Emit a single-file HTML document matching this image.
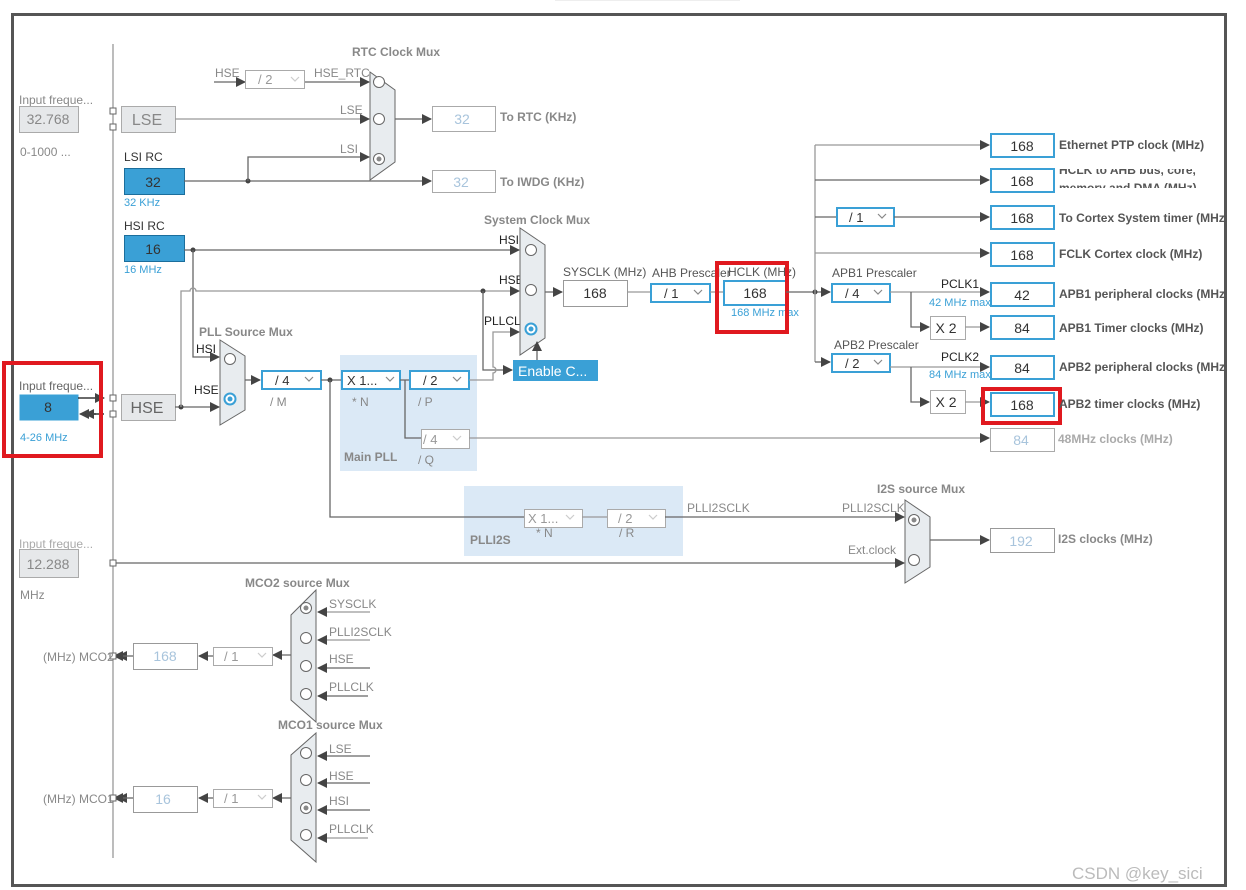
<!DOCTYPE html>
<html><head><meta charset="utf-8"><style>
html,body{margin:0;padding:0;background:#fff;width:1246px;height:890px;overflow:hidden}
svg{display:block;font-family:"Liberation Sans",sans-serif}
.l{stroke:#666;stroke-width:1.3;fill:none}
.lg{stroke:#999;stroke-width:1.3;fill:none}
.g{fill:#888;font-size:12px}
.b{fill:#888;font-size:12px;font-weight:bold}
.bd{fill:#555;font-size:12px;font-weight:bold}
.k{fill:#222;font-size:12px}
.bl{fill:#3aa0d6;font-size:11px}
.sel{stroke:#3aa0d6;stroke-width:2;fill:#fff}
.gb{stroke:#aaa;stroke-width:1;fill:#fff}
.mux{fill:#e8ecef;stroke:#666;stroke-width:1}
.c{fill:#fff;stroke:#666;stroke-width:1}
.v{font-size:14px;fill:#333;text-anchor:middle}
.vl{font-size:14px;fill:#a8c4dc;text-anchor:middle}
.ch{stroke:#888;stroke-width:1.2;fill:none}
.chl{stroke:#ccc;stroke-width:1.2;fill:none}
</style></head><body>
<svg width="1246" height="890" viewBox="0 0 1246 890">
<defs>
<marker id="a" markerWidth="10" markerHeight="10" refX="9" refY="5" orient="auto" markerUnits="userSpaceOnUse"><path d="M0,0 L10,5 L0,10 z" fill="#444"/></marker>
</defs>
<rect x="555" y="-1" width="185" height="2" fill="#eee"/>
<rect x="12.5" y="14.5" width="1213" height="871" fill="none" stroke="#555" stroke-width="3"/>
<line x1="113" y1="44" x2="113" y2="858" class="lg"/>

<!-- RTC -->
<text x="352" y="56" class="b">RTC Clock Mux</text>
<text x="215" y="77" class="g">HSE</text>
<path d="M214,82 H245" class="l" marker-end="url(#a)"/>
<rect x="245.5" y="70.5" width="59" height="18" class="gb"/><text x="258" y="84" style="font-size:13px;fill:#999">/ 2</text><polyline points="291,77 295,81 299,77" class="chl"/>
<path d="M305,82 H369" class="l" marker-end="url(#a)"/>
<text x="314" y="77" class="g">HSE_RTC</text>
<polygon points="370,72 395,90 395,162 370,180" class="mux"/>
<circle cx="379" cy="82" r="5.5" class="c"/><circle cx="379" cy="119" r="5.5" class="c"/><circle cx="379" cy="159" r="5.5" class="c"/><circle cx="379" cy="159" r="2.5" fill="#888"/>
<text x="340" y="114" class="g">LSE</text><text x="340" y="153" class="g">LSI</text>
<path d="M395,119 H431" class="l" marker-end="url(#a)"/>
<rect x="432.5" y="106.5" width="63" height="25" class="gb"/><text x="462" y="124" class="vl">32</text>
<text x="500" y="121" class="b">To RTC (KHz)</text>

<text x="19" y="104" class="g" fill="#aaa">Input freque...</text>
<rect x="19.5" y="106.5" width="59" height="26" fill="#e6e8ea" stroke="#aaa"/><text x="48" y="124" class="v" style="fill:#888">32.768</text>
<text x="20" y="156" class="g">0-1000 ...</text>
<rect x="110" y="108" width="6" height="6" fill="#fff" stroke="#666"/><rect x="110" y="124" width="6" height="6" fill="#fff" stroke="#666"/>
<rect x="121.5" y="106.5" width="54" height="26" fill="#e6e8ea" stroke="#aaa"/><text x="147" y="125" style="font-size:16px;fill:#888;text-anchor:middle">LSE</text>
<path d="M175,119 H369" class="lg" marker-end="url(#a)"/>

<text x="124" y="161" class="k" style="fill:#333">LSI RC</text>
<rect x="124.5" y="168.5" width="60" height="26" fill="#3aa0d6" stroke="#1b6e9c"/><text x="153" y="187" class="v">32</text>
<text x="124" y="206" class="bl">32 KHz</text>
<path d="M184,181 H431" class="l" marker-end="url(#a)"/>
<circle cx="248" cy="181" r="2.5" fill="#444"/>
<path d="M248,181 V157 H369" class="l" marker-end="url(#a)"/>
<rect x="432.5" y="170.5" width="63" height="22" class="gb"/><text x="461" y="187" class="vl">32</text>
<text x="500" y="186" class="b">To IWDG (KHz)</text>

<text x="124" y="230" class="k" style="fill:#333">HSI RC</text>
<rect x="124.5" y="235.5" width="60" height="26" fill="#3aa0d6" stroke="#1b6e9c"/><text x="153" y="254" class="v">16</text>
<text x="124" y="273" class="bl">16 MHz</text>
<path d="M184,250 H519" class="l" marker-end="url(#a)"/>
<circle cx="193" cy="250" r="2.5" fill="#444"/>
<path d="M193,250 V357 H219" class="l" marker-end="url(#a)"/>

<!-- HSE -->
<text x="19" y="390" class="g" style="fill:#666">Input freque...</text>
<rect x="19.5" y="394.5" width="59" height="26" fill="#3aa0d6"/><text x="48" y="412" class="v">8</text>
<text x="20" y="441" class="bl">4-26 MHz</text>
<path d="M78,398 H104" stroke="#111" stroke-width="1.3" marker-end="url(#a)"/>
<path d="M104,414 H80" stroke="#111" stroke-width="1.3" marker-end="url(#a)"/>
<path d="M96,414 H85" stroke="#111" stroke-width="1.3" marker-end="url(#a)"/>
<rect x="4" y="363" width="97" height="93" fill="none" stroke="#e0191f" stroke-width="4"/>
<rect x="110" y="395" width="6" height="6" fill="#fff" stroke="#666"/><rect x="110" y="411" width="6" height="6" fill="#fff" stroke="#666"/>
<rect x="121.5" y="394.5" width="54" height="26" fill="#e6e8ea" stroke="#aaa"/><text x="147" y="413" style="font-size:16px;fill:#666;text-anchor:middle">HSE</text>
<path d="M175,407 H219" class="l" marker-end="url(#a)"/>
<circle cx="181" cy="407" r="2.5" fill="#444"/>
<path d="M181,407 V291 H190 A3,3 0 0 1 196,291 H519" class="lg" marker-end="url(#a)"/>
<circle cx="483" cy="291" r="2.5" fill="#444"/>
<path d="M483,291 V370 H512" class="l" marker-end="url(#a)"/>

<!-- PLL src mux -->
<text x="199" y="336" class="b">PLL Source Mux</text>
<text x="196" y="353" class="k">HSI</text><text x="194" y="394" class="k">HSE</text>
<polygon points="220,340 245,356 245,410 220,425" class="mux"/>
<circle cx="230" cy="359" r="5.5" class="c"/>
<circle cx="230" cy="399" r="5.5" class="sel"/><circle cx="230" cy="399" r="2.5" fill="#3aa0d6"/>
<path d="M245,380 H260" class="l" marker-end="url(#a)"/>
<rect x="262" y="371" width="59" height="18" fill="#fff" stroke="#3aa0d6" stroke-width="2"/><text x="275" y="385" style="font-size:13px;fill:#333">/ 4</text><polyline points="305,377 309,381 313,377" class="ch"/>
<text x="270" y="406" class="g">/ M</text>

<rect x="340" y="355" width="137" height="116" fill="#dbe9f6"/>
<text x="344" y="461" class="b">Main PLL</text>
<path d="M321,380 H341" class="l"/><circle cx="330" cy="380" r="2.5" fill="#444"/>
<path d="M330,380 V517 H524" class="l"/>
<rect x="342" y="371" width="58" height="18" fill="#fff" stroke="#3aa0d6" stroke-width="2"/><text x="347" y="385" style="font-size:13px;fill:#333">X 1...</text><polyline points="386,377 390,381 394,377" class="ch"/>
<text x="352" y="406" class="g">* N</text>
<path d="M400,380 H409 M405,380 V438 H421" class="l"/>
<rect x="410" y="371" width="59" height="18" fill="#fff" stroke="#3aa0d6" stroke-width="2"/><text x="423" y="385" style="font-size:13px;fill:#333">/ 2</text><polyline points="453,377 457,381 461,377" class="ch"/>
<text x="418" y="406" class="g">/ P</text>
<rect x="421.5" y="429.5" width="48" height="19" class="gb"/><text x="423" y="444" style="font-size:13px;fill:#999">/ 4</text><polyline points="453,436 457,440 461,436" class="chl"/>
<text x="418" y="464" class="g">/ Q</text>
<path d="M469,380 H493 V373 A3,3 0 0 0 493,367 V332 H519" class="lg" marker-end="url(#a)"/>
<path d="M469,438 H989" class="lg" marker-end="url(#a)"/>
<rect x="990.5" y="428.5" width="64" height="23" class="gb"/><text x="1021" y="445" class="vl">84</text>
<text x="1058" y="443" class="b" style="fill:#aaa">48MHz clocks (MHz)</text>

<!-- Sys clock mux -->
<text x="484" y="224" class="b">System Clock Mux</text>
<text x="499" y="244" class="k">HSI</text><text x="499" y="284" class="k">HSE</text><text x="484" y="325" class="k">PLLCLK</text>
<polygon points="520,228 545,245 545,338 520,355" class="mux"/>
<circle cx="531" cy="250" r="5.5" class="c"/><circle cx="531" cy="290" r="5.5" class="c"/>
<circle cx="531" cy="329" r="5.5" class="sel"/><circle cx="531" cy="329" r="2.5" fill="#3aa0d6"/>
<rect x="513" y="360" width="85" height="21" fill="#3aa0d6"/><text x="518" y="376" style="font-size:14px;fill:#fff">Enable C...</text>
<path d="M537,360 V342" class="l" marker-end="url(#a)"/>
<path d="M545,292 H562" class="l" marker-end="url(#a)"/>
<text x="563" y="276" class="g" style="fill:#555">SYSCLK (MHz)</text>
<rect x="563.5" y="280.5" width="64" height="26" class="gb" style="stroke:#999"/><text x="595" y="298" class="v">168</text>
<path d="M627,292 H651" class="lg"/>
<text x="652" y="277" class="g" style="fill:#555">AHB Prescaler</text>
<rect x="651" y="284" width="59" height="18" fill="#fff" stroke="#3aa0d6" stroke-width="2"/><text x="664" y="298" style="font-size:13px;fill:#333">/ 1</text><polyline points="694,290 698,294 702,290" class="ch"/>
<path d="M710,292 H724" class="lg"/>
<text x="728" y="276" class="g" style="fill:#555">HCLK (MHz)</text>
<rect x="724" y="281" width="62" height="24" fill="#fff" stroke="#3aa0d6" stroke-width="2"/><text x="755" y="298" class="v">168</text>
<text x="731" y="316" class="bl">168 MHz max</text>
<rect x="717" y="263" width="70" height="69" fill="none" stroke="#e0191f" stroke-width="4"/>
<path d="M786,292 H830" class="l" marker-end="url(#a)"/><circle cx="815" cy="292" r="2.5" fill="#444"/>
<path d="M815,145 V362" class="lg"/>
<path d="M815,145 H989" class="lg" marker-end="url(#a)"/>
<path d="M815,180 H989" class="l" marker-end="url(#a)"/>
<path d="M815,217 H836" class="l"/>
<rect x="837" y="208" width="57" height="18" fill="#fff" stroke="#3aa0d6" stroke-width="2"/><text x="849" y="222" style="font-size:13px;fill:#333">/ 1</text><polyline points="878,214 882,218 886,214" class="ch"/>
<path d="M894,217 H989" class="l" marker-end="url(#a)"/>
<path d="M815,253 H989" class="lg" marker-end="url(#a)"/>
<path d="M815,362 H830" class="l" marker-end="url(#a)"/>

<text x="832" y="277" class="g" style="fill:#555">APB1 Prescaler</text>
<rect x="832" y="284" width="58" height="18" fill="#fff" stroke="#3aa0d6" stroke-width="2"/><text x="845" y="298" style="font-size:13px;fill:#333">/ 4</text><polyline points="874,290 878,294 882,290" class="ch"/>
<path d="M890,292 H989" class="lg" marker-end="url(#a)"/>
<text x="941" y="288" class="k">PCLK1</text><text x="929" y="306" class="bl">42 MHz max</text>
<path d="M911,292 V327 H929" class="l" marker-end="url(#a)"/>
<rect x="930.5" y="316.5" width="35" height="23" class="gb"/><text x="946" y="333" class="v">X 2</text>
<path d="M965,327 H989" class="lg" marker-end="url(#a)"/>

<text x="834" y="349" class="g" style="fill:#555">APB2 Prescaler</text>
<rect x="832" y="354" width="58" height="18" fill="#fff" stroke="#3aa0d6" stroke-width="2"/><text x="845" y="368" style="font-size:13px;fill:#333">/ 2</text><polyline points="874,360 878,364 882,360" class="ch"/>
<path d="M890,367 H989" class="lg" marker-end="url(#a)"/>
<text x="941" y="361" class="k">PCLK2</text><text x="929" y="378" class="bl">84 MHz max</text>
<path d="M911,367 V402 H929" class="l" marker-end="url(#a)"/>
<rect x="930.5" y="390.5" width="35" height="23" class="gb"/><text x="946" y="407" class="v">X 2</text>
<path d="M965,402 H989" class="lg" marker-end="url(#a)"/>

<g fill="#fff" stroke="#3aa0d6" stroke-width="2">
<rect x="991" y="134" width="63" height="23"/><rect x="991" y="169" width="63" height="23"/><rect x="991" y="206" width="63" height="23"/><rect x="991" y="243" width="63" height="23"/><rect x="991" y="283" width="63" height="23"/><rect x="991" y="316" width="63" height="23"/><rect x="991" y="356" width="63" height="23"/><rect x="991" y="393" width="63" height="23"/>
</g>
<g class="v"><text x="1022" y="151">168</text><text x="1022" y="186">168</text><text x="1022" y="223">168</text><text x="1022" y="260">168</text><text x="1022" y="300">42</text><text x="1022" y="333">84</text><text x="1022" y="373">84</text><text x="1022" y="410">168</text></g>
<rect x="983" y="389" width="77" height="34" fill="none" stroke="#e0191f" stroke-width="4"/>
<g class="bd">
<text x="1059" y="149">Ethernet PTP clock (MHz)</text>
<text x="1059" y="174">HCLK to AHB bus, core,</text>
<text x="1059" y="192">memory and DMA (MHz)</text>
<text x="1059" y="222">To Cortex System timer (MHz)</text>
<text x="1059" y="258">FCLK Cortex clock (MHz)</text>
<text x="1059" y="298">APB1 peripheral clocks (MHz)</text>
<text x="1059" y="332">APB1 Timer clocks (MHz)</text>
<text x="1059" y="371">APB2 peripheral clocks (MHz)</text>
<text x="1059" y="408">APB2 timer clocks (MHz)</text>
</g>
<rect x="1059" y="165" width="160" height="4" fill="#fff"/><rect x="1059" y="188" width="160" height="8" fill="#fff"/>
<rect x="1227" y="100" width="19" height="330" fill="#fff"/>
<rect x="1224" y="14" width="3" height="873" fill="#555"/>

<!-- PLLI2S -->
<rect x="464" y="486" width="219" height="70" fill="#dbe9f6"/>
<text x="470" y="544" class="b">PLLI2S</text>
<path d="M464,517 H524" class="l"/>
<rect x="524.5" y="509.5" width="58" height="18" class="gb"/><text x="528" y="523" style="font-size:13px;fill:#999">X 1...</text><polyline points="566,515 570,519 574,515" class="chl"/>
<text x="536" y="537" class="g">* N</text>
<path d="M582,517 H607" class="lg"/>
<rect x="607.5" y="509.5" width="58" height="18" class="gb"/><text x="618" y="523" style="font-size:13px;fill:#999">/ 2</text><polyline points="649,515 653,519 657,515" class="chl"/>
<text x="619" y="537" class="g">/ R</text>
<path d="M665,517 H904" class="l" marker-end="url(#a)"/>
<text x="687" y="512" class="g">PLLI2SCLK</text><text x="842" y="512" class="g">PLLI2SCLK</text>
<text x="877" y="493" class="b">I2S source Mux</text>
<text x="848" y="554" class="g">Ext.clock</text>
<polygon points="905,500 930,517 930,567 905,583" class="mux"/>
<circle cx="914" cy="520" r="5.5" class="c"/><circle cx="914" cy="520" r="2.5" fill="#888"/>
<circle cx="914" cy="560" r="5.5" class="c"/>
<path d="M930,540 H989" class="l" marker-end="url(#a)"/>
<rect x="990.5" y="528.5" width="64" height="24" class="gb" style="stroke:#999"/><text x="1021" y="546" class="vl">192</text>
<text x="1058" y="543" class="b">I2S clocks (MHz)</text>

<text x="19" y="548" class="g" style="fill:#aaa">Input freque...</text>
<rect x="19.5" y="549.5" width="59" height="28" fill="#e6e8ea" stroke="#aaa"/><text x="48" y="569" class="v" style="fill:#888">12.288</text>
<text x="20" y="599" class="g">MHz</text>
<rect x="110" y="560" width="6" height="6" fill="#fff" stroke="#666"/>
<path d="M116,563 H904" class="l" marker-end="url(#a)"/>

<!-- MCO2 -->
<text x="245" y="587" class="b">MCO2 source Mux</text>
<polygon points="316,590 316,722 291,700 291,615" class="mux"/>
<circle cx="306" cy="608" r="5.5" class="c"/><circle cx="306" cy="608" r="2.5" fill="#888"/>
<circle cx="306" cy="638" r="5.5" class="c"/><circle cx="306" cy="666" r="5.5" class="c"/><circle cx="306" cy="694" r="5.5" class="c"/>
<path d="M370,612 H318" class="lg" marker-end="url(#a)"/><path d="M370,640 H318" class="lg" marker-end="url(#a)"/><path d="M370,668 H318" class="l" marker-end="url(#a)"/><path d="M368,696 H318" class="l" marker-end="url(#a)"/>
<text x="329" y="608" class="g">SYSCLK</text><text x="329" y="636" class="g">PLLI2SCLK</text><text x="329" y="663" class="g">HSE</text><text x="329" y="691" class="g">PLLCLK</text>
<path d="M291,655 H273" class="l" marker-end="url(#a)"/>
<rect x="213.5" y="647.5" width="59" height="18" class="gb"/><text x="224" y="661" style="font-size:13px;fill:#999">/ 1</text><polyline points="258,653 262,657 266,653" class="chl"/>
<path d="M213,656 H199" class="l" marker-end="url(#a)"/>
<rect x="133.5" y="643.5" width="64" height="26" class="gb" style="stroke:#999"/><text x="165" y="661" class="vl">168</text>
<path d="M133,656 H118" class="l" marker-end="url(#a)"/><path d="M127,656 H114" class="l" marker-end="url(#a)"/>
<rect x="110" y="653" width="6" height="6" fill="#fff" stroke="#666"/>
<text x="43" y="661" class="g">(MHz) MCO2</text>

<!-- MCO1 -->
<text x="278" y="729" class="b">MCO1 source Mux</text>
<polygon points="316,733 316,862 291,840 291,755" class="mux"/>
<circle cx="306" cy="753" r="5.5" class="c"/><circle cx="306" cy="780" r="5.5" class="c"/>
<circle cx="306" cy="808" r="5.5" class="c"/><circle cx="306" cy="808" r="2.5" fill="#888"/>
<circle cx="306" cy="835" r="5.5" class="c"/>
<path d="M370,756 H318" class="l" marker-end="url(#a)"/><path d="M370,783 H318" class="l" marker-end="url(#a)"/><path d="M370,810 H318" class="l" marker-end="url(#a)"/><path d="M368,838 H318" class="lg" marker-end="url(#a)"/>
<text x="329" y="753" class="g">LSE</text><text x="329" y="780" class="g">HSE</text><text x="329" y="805" class="g">HSI</text><text x="329" y="833" class="g">PLLCLK</text>
<path d="M291,798 H273" class="l" marker-end="url(#a)"/>
<rect x="213.5" y="789.5" width="59" height="18" class="gb"/><text x="224" y="803" style="font-size:13px;fill:#999">/ 1</text><polyline points="258,795 262,799 266,795" class="chl"/>
<path d="M213,798 H199" class="l" marker-end="url(#a)"/>
<rect x="133.5" y="786.5" width="64" height="26" class="gb" style="stroke:#999"/><text x="163" y="804" class="vl">16</text>
<path d="M133,798 H118" class="l" marker-end="url(#a)"/><path d="M127,798 H114" class="l" marker-end="url(#a)"/>
<rect x="110" y="795" width="6" height="6" fill="#fff" stroke="#666"/>
<text x="43" y="803" class="g">(MHz) MCO1</text>

<text x="1072" y="879" style="font-size:17px;fill:#bbb">CSDN @key_sici</text>
</svg>
</body></html>
